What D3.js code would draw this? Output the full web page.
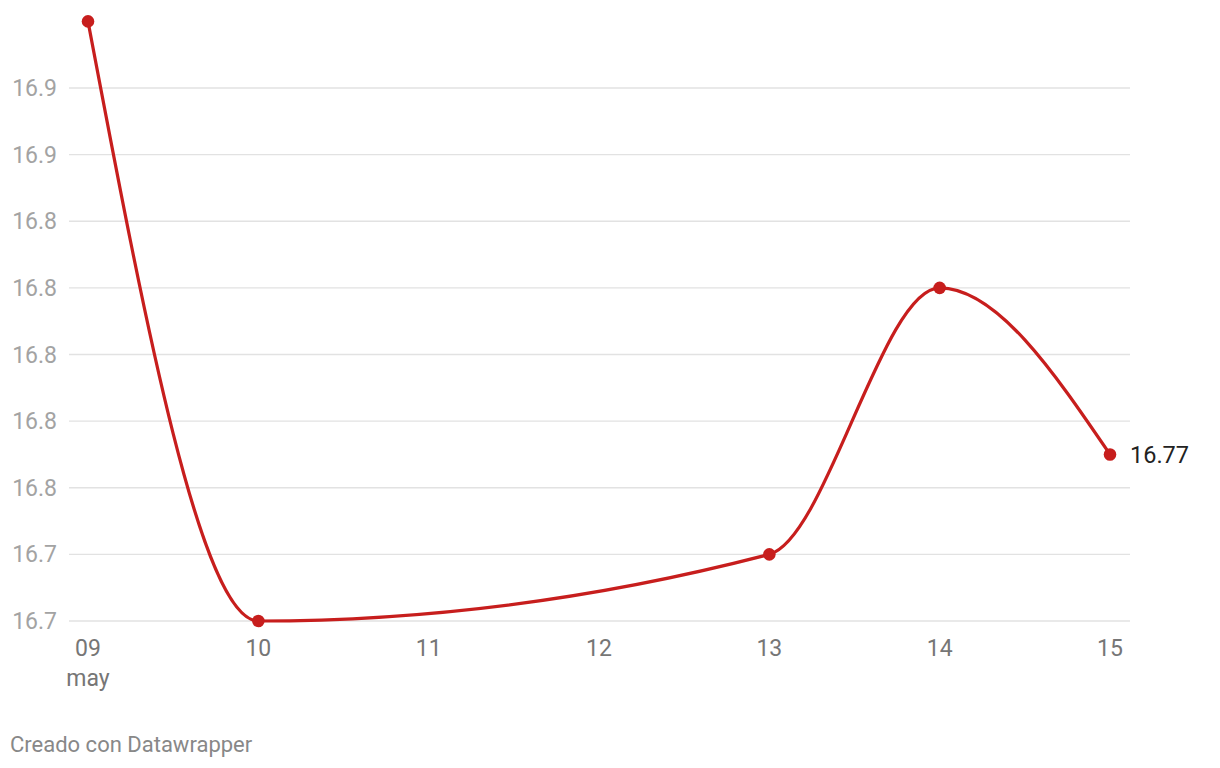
<!DOCTYPE html>
<html><head><meta charset="utf-8">
<script src="https://cdn.jsdelivr.net/npm/d3@7"></script>
<style>body{margin:0;background:#fff;font-family:Roboto,sans-serif}</style>
</head><body><svg id="c" width="1220" height="768"></svg>
<script>
const days = [9, 10, 13, 14, 15];
const values = [16.90, 16.72, 16.74, 16.82, 16.77];
const xTicks = [9, 10, 11, 12, 13, 14, 15];
const xTickLabels = ["09", "10", "11", "12", "13", "14", "15"];
const yTicks = [16.72, 16.74, 16.76, 16.78, 16.80, 16.82, 16.84, 16.86, 16.88];

const svg = d3.select("#c");
const x = d3.scaleLinear().domain([9, 15]).range([88, 1110]);
const y = d3.scaleLinear().domain([16.72, 16.88]).range([621, 88]);

// grid
svg.append("g").selectAll("line").data(yTicks).join("line")
  .attr("x1", 69).attr("x2", 1130)
  .attr("y1", d => y(d)).attr("y2", d => y(d))
  .attr("stroke", "#e2e2e2").attr("stroke-width", 1.3);
svg.append("g").selectAll("text").data(yTicks).join("text")
  .attr("x", 57).attr("y", d => y(d)).attr("dy", "0.35em")
  .attr("text-anchor", "end").attr("fill", "#a3a3a3")
  .attr("font-size", 23).text(d => d3.format(".1f")(d));

// x labels
svg.append("g").selectAll("text").data(xTicks).join("text")
  .attr("x", d => x(d)).attr("y", 656).attr("text-anchor", "middle")
  .attr("fill", "#767676").attr("font-size", 23).text((d, i) => xTickLabels[i]);
svg.append("text").attr("x", x(9)).attr("y", 686).attr("text-anchor", "middle")
  .attr("fill", "#767676").attr("font-size", 23).text("may");

const data = days.map((d, i) => ({d, v: values[i]}));
svg.append("path").datum(data)
  .attr("d", d3.line().x(p => x(p.d)).y(p => y(p.v)).curve(d3.curveMonotoneX))
  .attr("fill", "none").attr("stroke", "#c71e1d").attr("stroke-width", 3.2);
svg.append("g").selectAll("circle").data(data).join("circle")
  .attr("cx", p => x(p.d)).attr("cy", p => y(p.v)).attr("r", 6.3).attr("fill", "#c71e1d");

const last = data[data.length - 1];
svg.append("text").attr("x", x(last.d) + 20).attr("y", y(last.v)).attr("dy", "0.36em")
  .attr("fill", "#222").attr("font-size", 23.5).text(d3.format(".2f")(last.v));

svg.append("text").attr("x", 10).attr("y", 752).attr("fill", "#888")
  .attr("font-size", 22).text("Creado con Datawrapper");
</script></body></html>
